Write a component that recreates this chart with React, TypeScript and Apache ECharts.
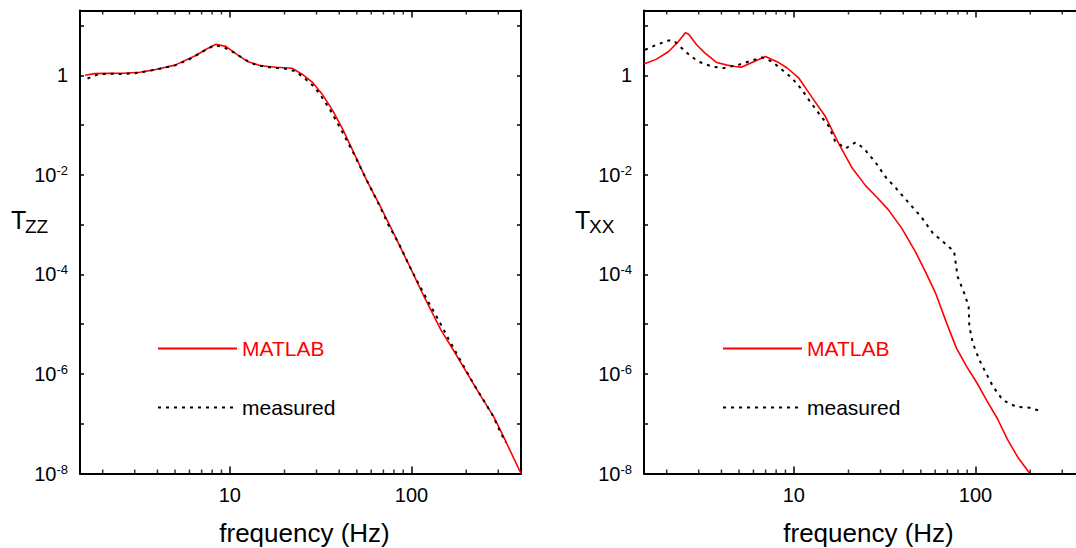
import React, { useEffect, useRef } from 'react';
import * as echarts from 'echarts';

const FONT = '"Liberation Sans", Arial, Helvetica, sans-serif';

// ---------- axis ranges & tick values ----------
const X_MIN = 1.5;
const X_MAX = 400;
const Y_MIN = 1e-8;
const Y_MAX = 20;
const X_MINOR_TICKS = [2, 3, 4, 5, 6, 7, 8, 9, 20, 30, 40, 50, 60, 70, 80, 90, 200, 300];

// ---------- left panel: T_ZZ ----------
const zzMatlabFreq = [1.6, 1.8, 2.1, 2.6, 3.2, 3.9, 5.0, 6.5, 7.5, 8.4, 9.5, 11.0, 12.5, 14.8, 18, 22, 25, 28.5, 32.5, 37, 42, 49, 57, 67, 80, 99, 117, 145, 173, 205, 234, 284, 330, 400];
const zzMatlabT = [1.0, 1.08, 1.09, 1.1, 1.15, 1.3, 1.6, 2.5, 3.4, 4.2, 3.8, 2.6, 1.9, 1.55, 1.45, 1.38, 1.05, 0.72, 0.4, 0.19, 0.08, 0.024, 7.4e-3, 2.4e-3, 6.5e-4, 1.3e-4, 3.6e-5, 7.7e-6, 2.7e-6, 9.5e-7, 4.2e-7, 1.36e-7, 4.4e-8, 1e-8];

const zzMeasFreq = [1.65, 1.9, 2.2, 2.6, 3.0, 3.5, 4.0, 5.0, 6.0, 7.0, 8.2, 9.2, 10.5, 12, 14, 17, 20, 23, 26, 29, 32, 36, 41, 48, 56, 65, 75, 85, 98, 110, 125, 140, 160, 180, 200, 220, 250, 280, 310, 330];
const zzMeasT = [0.86, 1.05, 1.07, 1.06, 1.1, 1.2, 1.32, 1.58, 2.1, 2.9, 4.0, 3.7, 2.9, 2.1, 1.6, 1.42, 1.36, 1.2, 0.85, 0.6, 0.37, 0.19, 0.08, 0.027, 8.5e-3, 2.9e-3, 9.5e-4, 4.2e-4, 1.4e-4, 6.2e-5, 2.6e-5, 1.25e-5, 5e-6, 2.3e-6, 1.15e-6, 6.2e-7, 2.9e-7, 1.45e-7, 6.5e-8, 4.2e-8];

// ---------- right panel: T_XX ----------
const xxMatlabFreq = [1.5, 1.76, 2.05, 2.32, 2.54, 2.65, 2.92, 3.25, 3.77, 4.3, 4.76, 5.18, 5.89, 6.98, 8.26, 9.2, 10.6, 12.6, 14.9, 17.7, 21, 24.9, 28.3, 33.1, 39.3, 46.8, 53.2, 60.6, 69, 78.5, 89.4, 102, 116, 132, 150, 171, 199];
const xxMatlabT = [1.68, 2.11, 3.0, 4.77, 7.2, 6.6, 4.1, 2.79, 1.8, 1.6, 1.5, 1.46, 1.8, 2.38, 1.8, 1.4, 0.9, 0.36, 0.15, 0.042, 0.0135, 6.0e-3, 3.7e-3, 2.0e-3, 8.4e-4, 2.8e-4, 1.1e-4, 4.0e-5, 1.1e-5, 3.3e-6, 1.4e-6, 6.5e-7, 2.8e-7, 1.26e-7, 4.8e-8, 2.1e-8, 1e-8];

const xxMeasFreq = [1.52, 1.76, 2.05, 2.2, 2.4, 2.63, 2.98, 3.54, 4.1, 4.96, 5.89, 6.7, 7.59, 8.62, 9.78, 11.1, 12.1, 13.7, 15.6, 16.9, 19.3, 21.9, 24.3, 28.3, 32.4, 36.5, 41.3, 50, 58.1, 67.3, 76.2, 79.6, 86.6, 91.6, 92.4, 96.5, 105, 114, 124.7, 141, 167, 198, 227];
const xxMeasT = [3.25, 4.1, 5.0, 4.9, 3.6, 2.66, 1.89, 1.5, 1.39, 1.62, 1.98, 2.28, 1.89, 1.29, 0.88, 0.51, 0.32, 0.174, 0.094, 0.047, 0.034, 0.045, 0.034, 0.0173, 8.5e-3, 5.4e-3, 3.2e-3, 1.46e-3, 6.8e-4, 4.3e-4, 2.9e-4, 9.1e-5, 4.2e-5, 2.3e-5, 9.1e-6, 4.2e-6, 1.9e-6, 1.05e-6, 5.6e-7, 3.0e-7, 2.2e-7, 2.1e-7, 1.8e-7];

const SERIES_NAMES = ['MATLAB', 'measured'];
const X_TITLE = 'frequency (Hz)';

const zip = (xs: number[], ys: number[]) => xs.map((x, i) => [x, ys[i]]);

const isPow10 = (v: number) => {
  const e = Math.log10(v);
  const k = Math.round(e);
  return Math.abs(e - k) < 1e-6 ? k : null;
};

const xLabel = (v: number) => {
  const k = isPow10(v);
  if (k === null || k < 1) return '';
  return String(Math.round(Math.pow(10, k)));
};

const yLabel = (v: number) => {
  const k = isPow10(v);
  if (k === null || k % 2 !== 0) return '';
  if (k === 0) return '{b|1}';
  return `{b|10}{sup|${k}}`;
};

const RED = '#ff0000';
const BLACK = '#000000';

function buildOption() {
  const grids = [
    { left: 80, top: 10.5, width: 441, height: 463 },
    { left: 644, top: 10.5, width: 441, height: 463 },
  ].map((g) => ({ ...g, containLabel: false, outerBoundsMode: 'none' }));

  const axisLine = { show: true, onZero: false, lineStyle: { color: BLACK, width: 2 } };

  const xAxes: any[] = [];
  const yAxes: any[] = [];
  [0, 1].forEach((gi) => {
    xAxes.push({
      type: 'log', logBase: 10, gridIndex: gi, min: X_MIN, max: X_MAX, position: 'bottom',
      axisLine,
      axisTick: { show: true, inside: true, length: 7, lineStyle: { color: BLACK, width: 1.5 } },
      axisLabel: { formatter: xLabel, fontSize: 20, color: BLACK, fontFamily: FONT, margin: 11, interval: 0 },
      splitLine: { show: false },
      name: X_TITLE, nameLocation: 'middle', nameGap: 46, nameMoveOverlap: false,
      nameTextStyle: { fontSize: 26, color: BLACK, fontFamily: FONT, padding: [0, 0, 0, 8] },
    });
    xAxes.push({
      type: 'log', logBase: 10, gridIndex: gi, min: X_MIN, max: X_MAX, position: 'top',
      axisLine,
      axisTick: { show: true, inside: true, length: 7, lineStyle: { color: BLACK, width: 1.5 } },
      axisLabel: { show: false },
      splitLine: { show: false },
    });
    yAxes.push({
      type: 'log', logBase: 10, gridIndex: gi, min: Y_MIN, max: Y_MAX, position: 'left',
      axisLine,
      axisTick: { show: true, inside: true, length: 4, lineStyle: { color: BLACK, width: 1.5 } },
      axisLabel: {
        formatter: yLabel, fontSize: 20, color: BLACK, fontFamily: FONT, margin: 12, interval: 0,
        rich: {
          b: { fontSize: 20, lineHeight: 22, color: BLACK, fontFamily: FONT },
          sup: { fontSize: 13, lineHeight: 13, verticalAlign: 'top', color: BLACK, fontFamily: FONT },
        },
      },
      splitLine: { show: false },
    });
    yAxes.push({
      type: 'log', logBase: 10, gridIndex: gi, min: Y_MIN, max: Y_MAX, position: 'right',
      axisLine,
      axisTick: { show: true, inside: true, length: 4, lineStyle: { color: BLACK, width: 1.5 } },
      axisLabel: { show: false },
      splitLine: { show: false },
    });
  });

  const lineSeries = (gi: number, name: string, data: number[][], dashed: boolean) => ({
    type: 'line', name, xAxisIndex: gi * 2, yAxisIndex: gi * 2, data,
    showSymbol: false, symbol: 'none', silent: true, z: dashed ? 4 : 3,
    lineStyle: dashed ? { color: BLACK, width: 2, type: [3, 5] } : { color: RED, width: 1.6, type: 'solid' },
    itemStyle: { color: dashed ? BLACK : RED },
  });

  const tickSeries = (gi: number, top: boolean) => ({
    type: 'scatter', name: 'minor-ticks', xAxisIndex: gi * 2, yAxisIndex: gi * 2,
    data: X_MINOR_TICKS.map((v) => [v, top ? Y_MAX : Y_MIN]),
    symbol: 'rect', symbolSize: [1.5, 4], symbolOffset: [0, top ? 2 : -2],
    itemStyle: { color: BLACK }, silent: true, clip: false, z: 5,
  });

  const legend = (left: number) => ({
    left, top: 338, orient: 'vertical', padding: 0, itemWidth: 79, itemHeight: 12, itemGap: 38,
    selectedMode: false,
    itemStyle: { opacity: 0 },
    textStyle: { fontSize: 21, fontFamily: FONT, color: BLACK },
    data: [
      { name: SERIES_NAMES[0], textStyle: { color: RED } },
      { name: SERIES_NAMES[1], textStyle: { color: BLACK } },
    ],
  });

  const yTitle = (x: number, main: string, sub: string) => [
    { type: 'text', x, y: 220, style: { text: main, fontSize: 25, fontFamily: FONT, fill: BLACK, align: 'left', verticalAlign: 'middle' } },
    { type: 'text', x: x + 14, y: 226, style: { text: sub, fontSize: 19, fontFamily: FONT, fill: BLACK, align: 'left', verticalAlign: 'middle' } },
  ];

  return {
    animation: false,
    backgroundColor: '#ffffff',
    textStyle: { fontFamily: FONT },
    grid: grids,
    xAxis: xAxes,
    yAxis: yAxes,
    legend: [legend(157), legend(722)],
    graphic: [...yTitle(11, 'T', 'ZZ'), ...yTitle(575, 'T', 'XX')],
    series: [
      lineSeries(0, SERIES_NAMES[0], zip(zzMatlabFreq, zzMatlabT), false),
      lineSeries(0, SERIES_NAMES[1], zip(zzMeasFreq, zzMeasT), true),
      lineSeries(1, SERIES_NAMES[0], zip(xxMatlabFreq, xxMatlabT), false),
      lineSeries(1, SERIES_NAMES[1], zip(xxMeasFreq, xxMeasT), true),
      tickSeries(0, false),
      tickSeries(0, true),
      tickSeries(1, false),
      tickSeries(1, true),
    ],
  };
}

export default function App() {
  const ref = useRef<HTMLDivElement>(null);
  useEffect(() => {
    if (!ref.current) return;
    const chart = echarts.init(ref.current, undefined, { renderer: 'svg' });
    chart.setOption(buildOption() as any);
    return () => chart.dispose();
  }, []);
  return (
    <div
      ref={ref}
      style={{ position: 'fixed', left: 0, top: 0, width: 1076, height: 548, background: '#fff' }}
    />
  );
}
